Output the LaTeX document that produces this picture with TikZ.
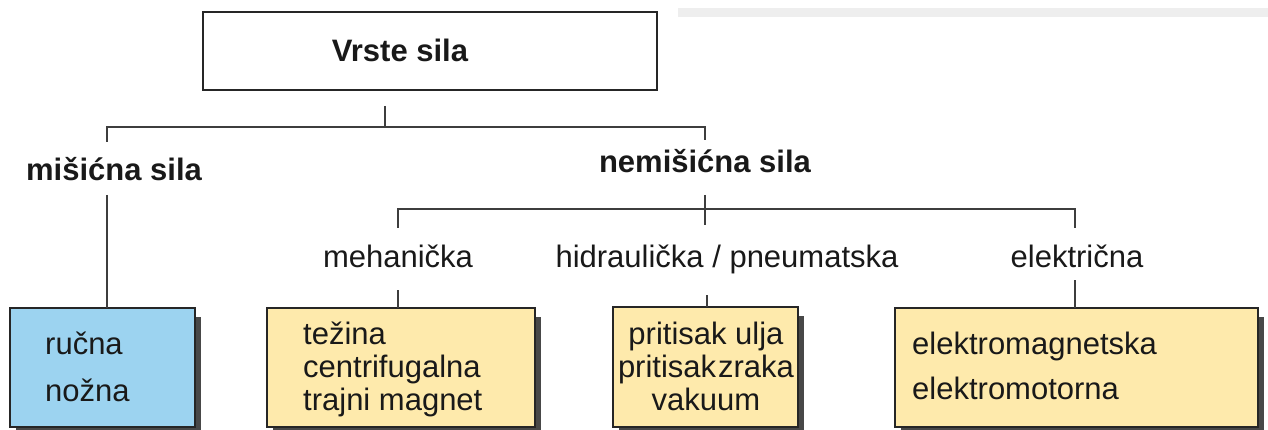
\documentclass[tikz,border=0pt]{standalone}
\usepackage{fontspec}
\setmainfont{Liberation Sans}
\usetikzlibrary{shadows}
\definecolor{boxblue}{RGB}{156,211,240}
\definecolor{boxyellow}{RGB}{254,234,172}
\definecolor{linegray}{RGB}{62,62,62}
\definecolor{shadowgray}{RGB}{72,72,72}
\definecolor{bargray}{RGB}{238,238,238}
\definecolor{txt}{RGB}{25,25,25}
\tikzset{
  conn/.style={draw=linegray, line width=2pt},
  framebox/.style={draw=black!85, line width=1.8pt, inner sep=0pt, outer sep=0pt, anchor=north west},
  catbox/.style={framebox, general shadow={fill=shadowgray, shadow xshift=6pt, shadow yshift=-9pt}},
  boldlbl/.style={font=\bfseries\fontsize{31}{36}\selectfont, inner sep=0pt, text=txt, anchor=base},
  lbl/.style={font=\fontsize{31}{36}\selectfont, inner sep=0pt, text=txt, anchor=base},
  boxtxt/.style={inner sep=0pt, text=txt},
}
\begin{document}
\begin{tikzpicture}[x=1pt, y=-1pt]
\useasboundingbox (0,0) rectangle (1268,430);
% faint bar at top right
\fill[bargray] (678,8) rectangle (1268,17);

% top box
\node[framebox, minimum width=454pt, minimum height=78pt] (top) at (203,12) {};
\node[boldlbl] (toptxt) at (400,62) {Vrste sila};

% level 1 labels
\node[boldlbl] (mis) at (114,181) {mišićna sila};
\node[boldlbl] (nemis) at (705,173) {nemišićna sila};

% level 2 labels
\node[lbl] (meh) at (398,268) {mehanička};
\node[lbl] (hid) at (727,268) {hidraulička / pneumatska};
\node[lbl] (ele) at (1077,268) {električna};

% boxes
\node[catbox, fill=boxblue, minimum width=185pt, minimum height=119pt] (b1) at (10,308) {};
\node[catbox, fill=boxyellow, minimum width=268pt, minimum height=119pt] (b2) at (267,308) {};
\node[catbox, fill=boxyellow, minimum width=185pt, minimum height=120pt] (b3) at (613,307) {};
\node[catbox, fill=boxyellow, minimum width=363pt, minimum height=119pt] (b4) at (895,308) {};

% box texts
\node[boxtxt, anchor=west, align=left, font=\fontsize{31}{47}\selectfont] (t1) at (45,367) {ručna\\nožna};
\node[boxtxt, anchor=west, align=left, font=\fontsize{31}{33}\selectfont] (t2) at (303,369) {težina\\centrifugalna\\trajni magnet};
\node[boxtxt, anchor=center, align=center, font=\fontsize{31}{33}\selectfont] (t3) at (706,366) {pritisak ulja\\pritisak\hspace{2pt}zraka\\vakuum};
\node[boxtxt, anchor=west, align=left, font=\fontsize{31}{45}\selectfont] (t4) at (912,366) {elektromagnetska\\elektromotorna};

% connector coordinates
\coordinate (c0) at (385,106);
\coordinate (j0) at (385,127);
\coordinate (jl) at (107,127);
\coordinate (jr) at (705,127);
\coordinate (dl) at (107,142);
\coordinate (dr) at (705,140);
\coordinate (ml) at (107,195);
\coordinate (ns) at (705,195);
\coordinate (ns2) at (705,225);
\coordinate (hl) at (398,209);
\coordinate (hr) at (1075,209);
\coordinate (hl2) at (398,228);
\coordinate (hr2) at (1075,228);
\coordinate (m1) at (398,290);
\coordinate (h1) at (707,295);
\coordinate (e1) at (1075,280);

% connectors
\draw[conn] (c0) -- (j0);
\draw[conn] (dl) -- (jl) -- (jr) -- (dr);
\draw[conn] (ml) -- (ml |- b1.north);
\draw[conn] (ns) -- (ns2);
\draw[conn] (hl2) -- (hl) -- (hr) -- (hr2);
\draw[conn] (m1) -- (m1 |- b2.north);
\draw[conn] (h1) -- (h1 |- b3.north);
\draw[conn] (e1) -- (e1 |- b4.north);
\end{tikzpicture}
\end{document}
